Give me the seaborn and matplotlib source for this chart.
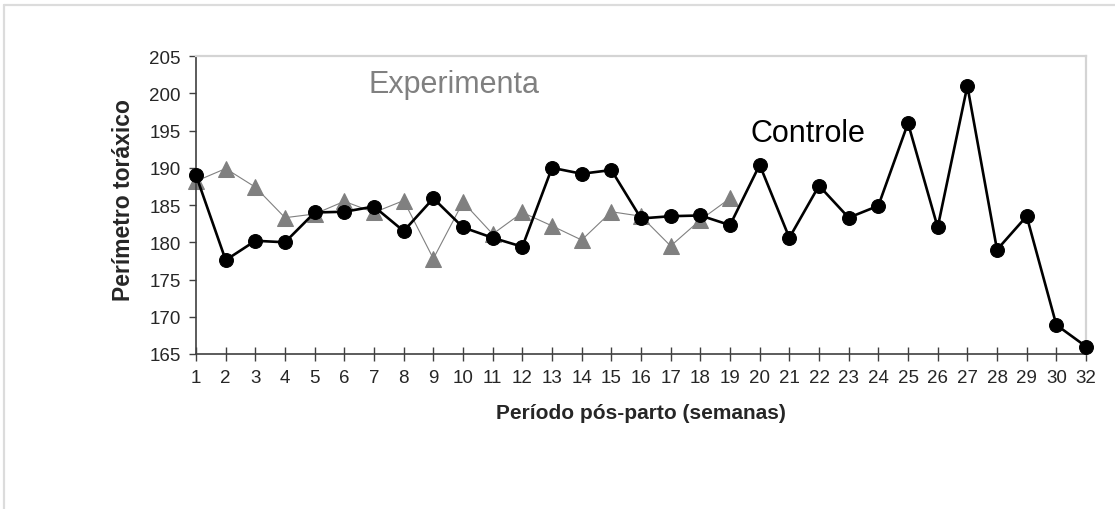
import pandas as pd
import matplotlib.pyplot as plt
import seaborn as sns
from matplotlib.lines import Line2D

# ---- data ----
semanas = ["1", "2", "3", "4", "5", "6", "7", "8", "9", "10", "11", "12", "13", "14", "15",
           "16", "17", "18", "19", "20", "21", "22", "23", "24", "25", "26", "27", "28", "29",
           "30", "32"]
controle = [189.0, 177.6, 180.2, 180.0, 184.0, 184.1, 184.8, 181.5, 185.9, 182.0, 180.6,
            179.4, 190.0, 189.2, 189.7, 183.2, 183.5, 183.6, 182.3, 190.4, 180.6, 187.6,
            183.3, 184.9, 196.0, 182.0, 201.0, 179.0, 183.5, 168.9, 166.0]
experimental = [188.2, 189.9, 187.4, 183.3, 183.8, 185.5, 184.0, 185.6, 177.8, 185.4, 181.1,
                184.0, 182.2, 180.3, 184.1, 183.5, 179.5, 183.0, 185.9]

df_c = pd.DataFrame({"pos": range(len(controle)), "valor": controle})
df_e = pd.DataFrame({"pos": range(len(experimental)), "valor": experimental})

# ---- plot ----
sns.set_style("white")
plt.rcParams["font.family"] = ["Liberation Sans", "DejaVu Sans"]

fig = plt.figure(figsize=(11.15, 5.1), dpi=100)
ax = fig.add_axes([0.1758, 0.304, 0.7982, 0.584])

sns.lineplot(data=df_e, x="pos", y="valor", ax=ax, color="#808080", linewidth=0.8,
             marker="^", markersize=11, markeredgecolor="#808080", clip_on=False, zorder=2)
sns.lineplot(data=df_c, x="pos", y="valor", ax=ax, color="black", linewidth=1.9,
             marker="o", markersize=10, markeredgecolor="black", clip_on=False, zorder=3)

ax.set_xlim(0, len(semanas) - 1)
ax.set_ylim(165, 205)
ax.set_xticks(range(len(semanas)))
ax.set_xticklabels(semanas)
ax.set_yticks(range(165, 206, 5))

ax.tick_params(axis="x", bottom=True, direction="inout", length=9.5, width=1,
               color="#404040", labelsize=13.5, pad=6)
ax.tick_params(axis="y", left=True, direction="out", length=5, width=1,
               color="#404040", labelsize=13.5, pad=6)

for side in ["left", "bottom"]:
    ax.spines[side].set_color("#404040")
    ax.spines[side].set_linewidth(1.2)
for side in ["top", "right"]:
    ax.spines[side].set_color("#d4d4d4")
    ax.spines[side].set_linewidth(1.6)

ax.set_xlabel("Período pós-parto (semanas)", fontsize=15, fontweight="bold", labelpad=12)
ax.set_ylabel("Perímetro toráxico", fontsize=16.5, fontweight="bold")
ax.yaxis.set_label_coords(-0.069, 0.52)

ax.text(5.8, 201.2, "Experimenta", color="#808080", fontsize=22, va="center", ha="left")
ax.text(18.7, 194.7, "Controle", color="black", fontsize=22, va="center", ha="left")

# light frame around the chart area (top and left edges visible)
fig.add_artist(Line2D([0.004, 1.0], [0.988, 0.988], transform=fig.transFigure,
                      color="#dcdcdc", linewidth=1.6))
fig.add_artist(Line2D([0.004, 0.004], [0.0, 0.988], transform=fig.transFigure,
                      color="#dcdcdc", linewidth=1.6))

fig.savefig("out.png", dpi=100)
